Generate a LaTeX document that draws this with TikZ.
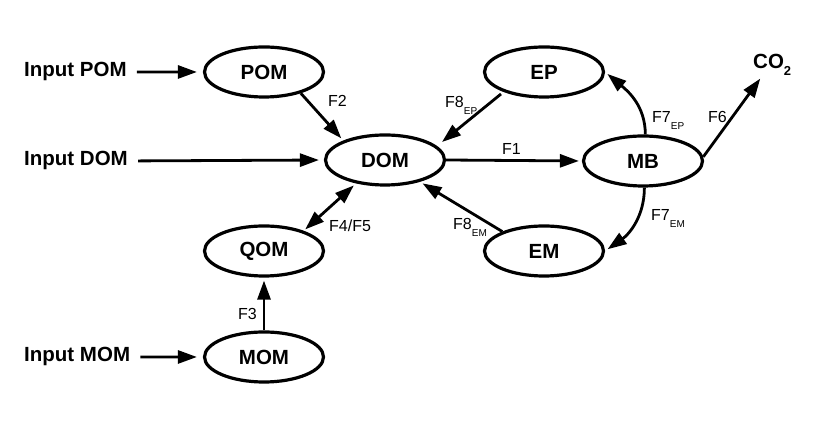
\documentclass[tikz,border=0pt]{standalone}
\usepackage{fontspec}
\setmainfont{Liberation Sans}
\usetikzlibrary{shapes}
\usetikzlibrary{arrows.meta}
\tikzset{
	pool/.style = {ellipse, draw=black, line width=3.2pt, minimum width=119pt,
		minimum height=50pt, inner sep=0pt, font=\fontsize{20.5}{24}\selectfont\bfseries},% pool
	inlabel/.style = {anchor=base west, inner sep=0pt,
		font=\fontsize{20.5}{24}\selectfont\bfseries},% input text
	flowlabel/.style = {anchor=base west, inner sep=0pt,
		font=\fontsize{16}{19}\selectfont},% flux name
	flux/.style = {line width=2.8pt, -{Triangle[length=19pt,width=13pt]},
		shorten >=3pt}% flux arrow
}
\newcommand{\flowsub}[1]{\raisebox{-7pt}{\fontsize{10}{11}\selectfont #1}}

\begin{document}
\begin{tikzpicture}[x=1pt,y=1pt]
	\useasboundingbox (0,0) rectangle (829,427);
	% pools
	\node[pool] (POM) at (264,355) {POM};
	\node[pool] (DOM) at (385,267) {DOM};
	\node[pool] (EP) at (544,355) {EP};
	\node[pool] (MB) at (643,266) {MB};
	\node[pool] (QOM) at (264,176) {QOM};
	\node[pool] (EM) at (544,176) {EM};
	\node[pool] (MOM) at (264,70) {MOM};
	% inputs and output
	\node[inlabel] (inPOM) at (24,350) {Input POM};
	\node[inlabel] (inDOM) at (24,261) {Input DOM};
	\node[inlabel] (inMOM) at (24,65) {Input MOM};
	\node[inlabel] (CO2) at (753,358) {CO\raisebox{-7pt}{\fontsize{13}{14}\selectfont 2}};
	% flux names
	\node[flowlabel] (lF1) at (502,272) {F1};
	\node[flowlabel] (lF2) at (328,320) {F2};
	\node[flowlabel] (lF3) at (238,107) {F3};
	\node[flowlabel] (lF45) at (329,195) {F4/F5};
	\node[flowlabel] (lF6) at (708,304) {F6};
	\node[flowlabel] (lF7ep) at (652,304) {F7\flowsub{EP}};
	\node[flowlabel] (lF7em) at (651,206) {F7\flowsub{EM}};
	\node[flowlabel] (lF8ep) at (445,319) {F8\flowsub{EP}};
	\node[flowlabel] (lF8em) at (453,197) {F8\flowsub{EM}};
	% fluxes
	\draw[flux, shorten <=10pt, shorten >=6pt] (inPOM.east) -- (POM.west);
	\draw[flux, shorten <=10pt, shorten >=5pt] (inDOM.east) -- (DOM.west);
	\draw[flux, shorten <=10pt, shorten >=6pt] (inMOM.east) -- (MOM.west);
	\draw[flux] (POM.-30) -- (DOM.155);
	\draw[flux, shorten >=0pt] ([shift={(-43,-22)}]EP.center) -- ([shift={(57,18)}]DOM.center);
	\draw[flux] (EM.155) -- (DOM.-32);
	\draw[flux, {Triangle[length=19pt,width=13pt]}-{Triangle[length=19pt,width=13pt]},
		shorten <=2pt] (QOM.27) -- (DOM.219);
	\draw[flux] (MOM.north) -- (QOM.south);
	\draw[flux] (DOM.east) -- (MB.west);
	\draw[flux] (MB.4) -- ([xshift=9pt]CO2.south west);
	\draw[flux] (MB.85) to[out=90, in=-40] (EP.east);
	\draw[flux] (MB.-87) to[out=-90, in=35] (EM.east);
\end{tikzpicture}
\end{document}
